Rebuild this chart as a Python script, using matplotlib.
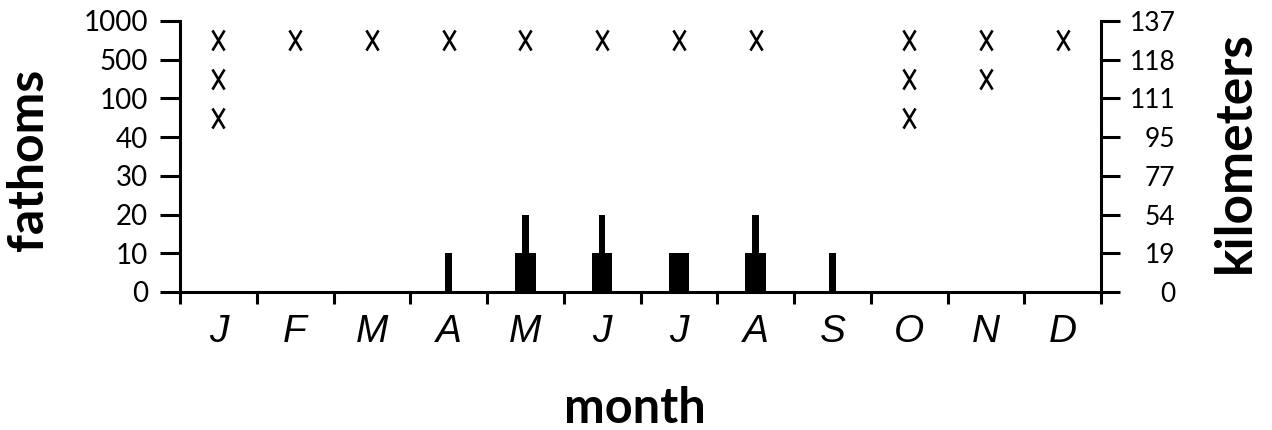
import matplotlib
matplotlib.use("Agg")
import matplotlib.pyplot as plt
import numpy as np
from matplotlib.path import Path

# month axis
months = ["J", "F", "M", "A", "M", "J", "J", "A", "S", "O", "N", "D"]

# depth levels (equally spaced on the chart) and their km counterparts
fathom_ticks = [0, 10, 20, 30, 40, 100, 500, 1000]
km_labels = ["0", "19", "54", "77", "95", "111", "118", "137"]

# bars: thick block and thin spike per month (fathoms)
thick_fathoms = [0, 0, 0, 0, 10, 10, 10, 10, 0, 0, 0, 0]
thin_fathoms = [0, 0, 0, 10, 20, 20, 0, 20, 10, 0, 0, 0]

# crosses: (month index, depth in fathoms) -- mid-points of depth bands
cross_month = [0, 0, 0, 1, 2, 3, 4, 5, 6, 7, 9, 9, 9, 10, 10, 11]
cross_fathoms = [750, 300, 70, 750, 750, 750, 750, 750, 750, 750,
                 750, 300, 70, 750, 300, 750]

levels = np.arange(len(fathom_ticks))


def fwd(v):
    return np.interp(v, fathom_ticks, levels)


def inv(v):
    return np.interp(v, levels, fathom_ticks)


W, H = 1272, 430
fig = plt.figure(figsize=(W / 100, H / 100), dpi=100)
fig.patch.set_facecolor("white")
ax = fig.add_axes([180 / W, (H - 292) / H, 921 / W, 271 / H])

ax.set_yscale("function", functions=(fwd, inv))
ax.set_ylim(0, 1000)
ax.set_xlim(0, 12)

x = np.arange(len(months)) + 0.5
ax.bar(x, thin_fathoms, width=0.085, color="black", zorder=3)
ax.bar(x, thick_fathoms, width=0.27, color="black", zorder=3)

# narrow "X" glyph-like marker
xpath = Path([(-0.3, -0.5), (0.3, 0.5), (-0.3, 0.5), (0.3, -0.5)],
             [Path.MOVETO, Path.LINETO, Path.MOVETO, Path.LINETO])
ax.plot(np.array(cross_month) + 0.5, cross_fathoms, linestyle="none",
        marker=xpath, markersize=14.5, markeredgewidth=1.9,
        markeredgecolor="black", markerfacecolor="none", zorder=4)

lw = 2.2
for side in ["top", "right"]:
    ax.spines[side].set_visible(False)
for side in ["left", "bottom"]:
    ax.spines[side].set_linewidth(lw)

# left axis
ax.set_yticks(fathom_ticks)
ax.set_yticklabels([str(t) for t in fathom_ticks], fontfamily="Lato",
                   fontsize=20)
ax.yaxis.set_minor_locator(matplotlib.ticker.NullLocator())
ax.tick_params(axis="y", which="major", length=14.4, width=lw, pad=8.5)

# x axis: boundaries ticked, labels at month centres
ax.set_xticks(np.arange(13))
ax.set_xticklabels([])
ax.set_xticks(x, minor=True)
ax.set_xticklabels(months, minor=True, fontfamily="Liberation Sans",
                   fontstyle="italic", fontsize=28)
ax.tick_params(axis="x", which="major", length=8.6, width=lw, direction="out")
ax.tick_params(axis="x", which="minor", length=0, pad=16)

# right axis
ax2 = ax.twinx()
ax2.set_yscale("function", functions=(fwd, inv))
ax2.set_ylim(0, 1000)
ax2.set_yticks(fathom_ticks)
ax2.set_yticklabels(km_labels, fontfamily="Lato", fontsize=19, ha="right")
ax2.yaxis.set_minor_locator(matplotlib.ticker.NullLocator())
ax2.tick_params(axis="y", which="major", length=13.7, width=lw, pad=40)
for side in ["top", "left", "bottom"]:
    ax2.spines[side].set_visible(False)
ax2.spines["right"].set_linewidth(lw)

fig.text(635 / W, 1 - 423 / H, "month", ha="center", va="baseline",
         fontfamily="Lato", fontweight="bold", fontsize=35)
fig.text(29 / W, 1 - 160 / H, "fathoms", rotation=90, ha="center",
         va="center", fontfamily="Lato", fontweight="bold", fontsize=36)
fig.text(1235 / W, 1 - 152 / H, "kilometers", rotation=90, ha="center",
         va="center", fontfamily="Lato", fontweight="bold", fontsize=37)

fig.savefig("out.png", dpi=100)
